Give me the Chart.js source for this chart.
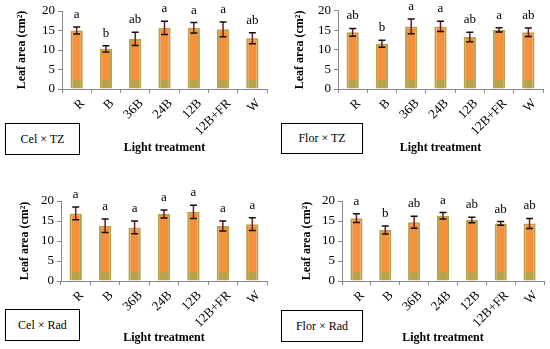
<!DOCTYPE html>
<html>
<head>
<meta charset="utf-8">
<script src="https://cdn.jsdelivr.net/npm/chart.js@4.4.1/dist/chart.umd.min.js"></script>
<style>
  html, body { margin: 0; padding: 0; background: #fff; }
  #wrap { position: relative; width: 550px; height: 349px; overflow: hidden; }
  canvas { position: absolute; }
  .lbl { position: absolute; box-sizing: border-box; border: 1.5px solid #000; background: #fff;
         font-family: "Liberation Serif", "Times New Roman", serif; font-size: 12px; color: #000;
         display: flex; align-items: center; justify-content: center; }
</style>
</head>
<body>
<div id="wrap">
  <canvas id="c1" width="275" height="175" style="left:0;top:0"></canvas>
  <canvas id="c2" width="275" height="175" style="left:275px;top:0"></canvas>
  <canvas id="c3" width="275" height="174" style="left:0;top:175px"></canvas>
  <canvas id="c4" width="275" height="174" style="left:275px;top:175px"></canvas>
  <div class="lbl" style="left:5px;top:123px;width:75px;height:32px">Cel × TZ</div>
  <div class="lbl" style="left:281px;top:123px;width:82px;height:31px">Flor × TZ</div>
  <div class="lbl" style="left:5px;top:309px;width:75px;height:32px">Cel × Rad</div>
  <div class="lbl" style="left:281px;top:310px;width:82px;height:32px">Flor × Rad</div>
</div>
<script>
const categories = ['R', 'B', '36B', '24B', '12B', '12B+FR', 'W'];
const yTicks = [0, 5, 10, 15, 20];

const celTZ        = [15.0, 10.3, 12.85, 15.7, 15.7, 15.3, 13.0];
const celTZErr     = [0.9, 0.8, 1.7, 1.7, 1.35, 1.9, 1.4];
const celTZLetters = ['a', 'b', 'ab', 'a', 'a', 'a', 'ab'];

const florTZ        = [14.5, 11.6, 16.0, 16.0, 13.3, 15.1, 14.5];
const florTZErr     = [1.0, 0.9, 1.9, 1.3, 1.2, 0.55, 1.1];
const florTZLetters = ['ab', 'b', 'a', 'a', 'ab', 'a', 'ab'];

const celRad        = [16.9, 13.8, 13.4, 16.75, 17.3, 13.75, 14.2];
const celRadErr     = [1.6, 1.7, 1.6, 1.0, 1.65, 1.25, 1.6];
const celRadLetters = ['a', 'a', 'a', 'a', 'a', 'a', 'a'];

const florRad        = [15.7, 12.75, 14.7, 16.3, 15.25, 14.4, 14.4];
const florRadErr     = [1.1, 1.0, 1.5, 0.8, 0.7, 0.45, 1.25];
const florRadLetters = ['a', 'b', 'ab', 'a', 'ab', 'ab', 'ab'];

const ORANGE = '#F3913F';
const OLIVE = '#B8A24A';
const SERIF = '"Liberation Serif", "Times New Roman", serif';

const errPlugin = {
  id: 'errLetters',
  afterDatasetsDraw(chart) {
    const opts = chart.options.plugins.errLetters;
    const meta = chart.getDatasetMeta(0);
    const y = chart.scales.y;
    const vals = chart.data.datasets[0].data;
    const ctx = chart.ctx;
    ctx.save();
    meta.data.forEach((bar, i) => {
      const x = bar.x;
      const yt = y.getPixelForValue(vals[i] + opts.err[i]);
      const yb = y.getPixelForValue(vals[i] - opts.err[i]);
      ctx.lineWidth = 1.5;
      ctx.strokeStyle = '#7A1A1A';
      ctx.beginPath(); ctx.moveTo(x, yt); ctx.lineTo(x, yb); ctx.stroke();
      ctx.strokeStyle = '#111';
      ctx.beginPath();
      ctx.moveTo(x - 3.5, yt); ctx.lineTo(x + 3.5, yt);
      ctx.moveTo(x - 3.5, yb); ctx.lineTo(x + 3.5, yb);
      ctx.stroke();
      ctx.fillStyle = '#000';
      ctx.font = '13px ' + SERIF;
      ctx.textAlign = 'center';
      ctx.textBaseline = 'alphabetic';
      ctx.fillText(opts.letters[i], x, yt - 9);
    });
    ctx.restore();
  }
};

function makeChart(id, values, errs, letters, pad, yw, xh) {
  return new Chart(document.getElementById(id), {
    type: 'bar',
    data: {
      labels: categories,
      datasets: [{
        data: values,
        backgroundColor: (c) => {
          const chart = c.chart;
          const area = chart.chartArea;
          if (!area) return ORANGE;
          const y0 = chart.scales.y.getPixelForValue(0);
          const y1 = chart.scales.y.getPixelForValue(2.3);
          const g = chart.ctx.createLinearGradient(0, y0, 0, area.top);
          const f = (y0 - y1) / (y0 - area.top);
          g.addColorStop(0, OLIVE);
          g.addColorStop(f, OLIVE);
          g.addColorStop(Math.min(1, f + 0.001), ORANGE);
          g.addColorStop(1, ORANGE);
          return g;
        },
        borderColor: OLIVE,
        borderWidth: { left: 2, right: 2, top: 2, bottom: 0 },
        borderSkipped: false,
        categoryPercentage: 1,
        barPercentage: 0.42
      }]
    },
    options: {
      responsive: false,
      animation: false,
      layout: { padding: pad },
      plugins: {
        legend: { display: false },
        tooltip: { enabled: false },
        errLetters: { err: errs, letters: letters }
      },
      scales: {
        x: {
          afterFit: (s) => { s.height = xh; },
          grid: { display: true, drawOnChartArea: false, tickLength: 4, color: '#888', offset: true },
          border: { color: '#888', width: 1 },
          ticks: { color: '#000', font: { family: SERIF, size: 13 }, minRotation: 45, maxRotation: 45, autoSkip: false, padding: 3, labelOffset: 6 },
          title: { display: true, text: 'Light treatment', color: '#000', font: { family: SERIF, size: 12, weight: 'bold' }, padding: { top: 4, bottom: 4 } }
        },
        y: {
          min: 0, max: 20,
          afterFit: (s) => { s.width = yw; },
          afterBuildTicks: (s) => { s.ticks = yTicks.map(v => ({ value: v })); },
          grid: { display: true, drawOnChartArea: false, tickLength: 4, color: '#888' },
          border: { color: '#888', width: 1 },
          ticks: { color: '#000', font: { family: SERIF, size: 13 }, padding: 3 },
          title: { display: true, text: 'Leaf area (cm²)', color: '#000', font: { family: SERIF, size: 12, weight: 'bold' }, padding: { top: 4, bottom: 4 } }
        }
      }
    },
    plugins: [errPlugin]
  });
}

makeChart('c1', celTZ, celTZErr, celTZLetters, { left: 11, right: 8, top: 11, bottom: 16 }, 51, 70);
makeChart('c2', florTZ, florTZErr, florTZLetters, { left: 14, right: 7, top: 10, bottom: 16 }, 49, 70);
makeChart('c3', celRad, celRadErr, celRadLetters, { left: 14, right: 8, top: 26, bottom: 0 }, 47, 68);
makeChart('c4', florRad, florRadErr, florRadLetters, { left: 21, right: 6, top: 26, bottom: 0 }, 46, 68);
</script>
</body>
</html>
